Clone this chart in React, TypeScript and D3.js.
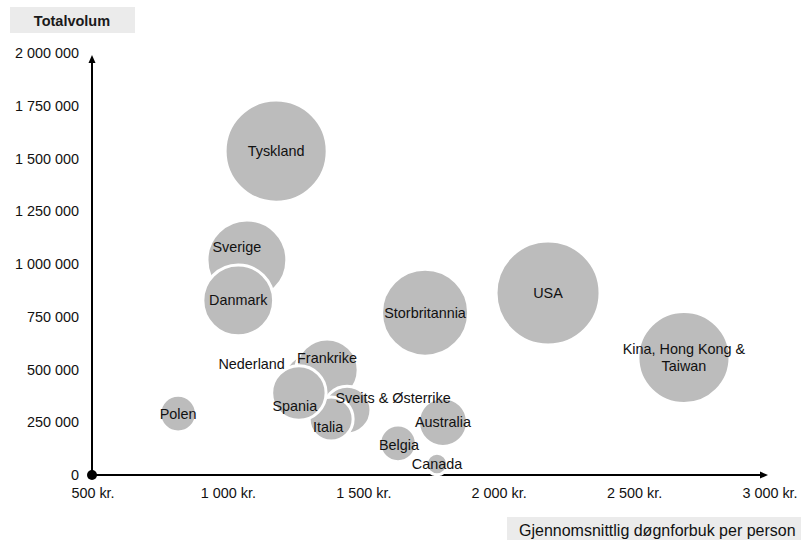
import React from "react";
import * as d3 from "d3";

// Markets: average daily spend per person (NOK), total volume (guest nights),
// and total spend (MNOK) which sets the bubble area.
const markets = [
  "Tyskland", "Sverige", "Danmark", "Storbritannia", "USA", "Kina, Hong Kong & Taiwan",
  "Nederland", "Frankrike", "Sveits & Østerrike", "Italia", "Spania",
  "Polen", "Australia", "Belgia", "Canada",
];
const avgSpend = [1180, 1072, 1040, 1730, 2184, 2686, 1312, 1368, 1442, 1383, 1264, 818, 1796, 1630, 1774];
const totalVolume = [1536000, 1020000, 828000, 770000, 863000, 557000, 441000, 498000, 308000, 266000, 389000, 291000, 251000, 150000, 52000];
const totalSpend = [1830, 1120, 880, 1330, 1900, 1490, 590, 680, 400, 340, 520, 235, 420, 235, 80];

const xTicks = [500, 1000, 1500, 2000, 2500, 3000];
const yTicks = [0, 250000, 500000, 750000, 1000000, 1250000, 1500000, 1750000, 2000000];

// Label placement relative to each bubble centre
const labelOffsets: Record<string, { dx: number; dy: number; anchor?: string }> = {
  Sverige: { dx: -10, dy: -13 },
  Frankrike: { dx: 0, dy: -12 },
  Spania: { dx: -4, dy: 13 },
  Italia: { dx: -3, dy: 8 },
  Nederland: { dx: -27, dy: -18, anchor: "end" },
  "Sveits & Østerrike": { dx: 46, dy: -12 },
  Belgia: { dx: 1, dy: 2 },
};

const W = 801;
const H = 540;
const FONT = "'Liberation Sans', Arial, sans-serif";

const fmtSpace = (v: number) => d3.format(",")(v).replace(/,/g, " ");

export default function App() {
  const x = d3.scaleLinear().domain([500, 3000]).range([92, 769]);
  const y = d3.scaleLinear().domain([0, 2000000]).range([475, 53.3]);
  const r = d3.scaleSqrt().domain([0, 1900]).range([0, 52]);

  const x0 = x(500);
  const y0 = y(0);
  const xEnd = 768;
  const yEnd = 55;

  const bubbles = markets.map((name, i) => ({
    name,
    cx: x(avgSpend[i]),
    cy: y(totalVolume[i]),
    r: r(totalSpend[i]),
  }));

  return (
    <svg
      width={W}
      height={H}
      style={{ position: "absolute", left: 0, top: 0, background: "#fff" }}
      fontFamily={FONT}
    >
      {/* Axis titles */}
      <rect x={10} y={7} width={125} height={26} fill="#ebebeb" />
      <text x={72} y={20.5} textAnchor="middle" dominantBaseline="central" fontSize={14.5} fontWeight="bold" fill="#1a1a1a">
        Totalvolum
      </text>
      <rect x={507} y={517} width={300} height={30} fill="#ebebeb" />
      <text x={519} y={530} dominantBaseline="central" fontSize={16} fill="#111">
        Gjennomsnittlig døgnforbuk per person
      </text>

      {/* Y tick labels */}
      {yTicks.map((t) => (
        <text key={t} x={79} y={y(t)} textAnchor="end" dominantBaseline="central" fontSize={14.4} fill="#111">
          {fmtSpace(t)}
        </text>
      ))}
      {/* X tick labels */}
      {xTicks.map((t) => (
        <text key={t} x={x(t) + 1} y={493} textAnchor="middle" dominantBaseline="central" fontSize={14.4} fill="#111">
          {fmtSpace(t)} kr.
        </text>
      ))}

      {/* Axes with arrowheads */}
      <line x1={x0} y1={y0} x2={x0} y2={yEnd + 6} stroke="#000" strokeWidth={2} />
      <path d={`M${x0 - 3.5},${yEnd + 8} L${x0},${yEnd} L${x0 + 3.5},${yEnd + 8} Z`} fill="#000" />
      <line x1={x0} y1={y0} x2={xEnd - 6} y2={y0} stroke="#000" strokeWidth={2} />
      <path d={`M${xEnd - 8},${y0 - 3.5} L${xEnd},${y0} L${xEnd - 8},${y0 + 3.5} Z`} fill="#000" />
      <circle cx={x0} cy={y0} r={5} fill="#000" />

      {/* Bubbles */}
      {bubbles.map((b) => (
        <circle key={b.name} cx={b.cx} cy={b.cy} r={b.r} fill="#bcbcbc" stroke="#fff" strokeWidth={3} />
      ))}

      {/* Bubble labels */}
      {bubbles.map((b) => {
        const o = labelOffsets[b.name] || { dx: 0, dy: 0 };
        const lines = b.name === "Kina, Hong Kong & Taiwan" ? ["Kina, Hong Kong &", "Taiwan"] : [b.name];
        return (
          <text
            key={b.name}
            x={b.cx + o.dx}
            y={b.cy + o.dy - ((lines.length - 1) * 16.5) / 2}
            textAnchor={o.anchor || "middle"}
            dominantBaseline="central"
            fontSize={14.4}
            fill="#111"
          >
            {lines.map((l, i) => (
              <tspan key={i} x={b.cx + o.dx} dy={i === 0 ? 0 : 16.5}>
                {l}
              </tspan>
            ))}
          </text>
        );
      })}
    </svg>
  );
}
